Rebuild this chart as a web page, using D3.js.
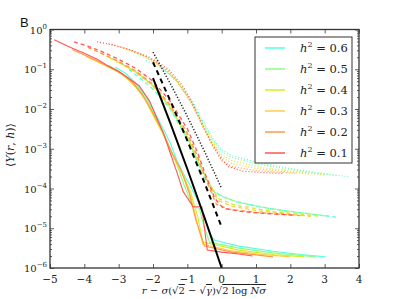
<!DOCTYPE html>
<html><head><meta charset="utf-8">
<script src="https://cdn.jsdelivr.net/npm/d3@7/dist/d3.min.js"></script>
<style>body{margin:0;background:#fff}svg{display:block}</style>
</head><body>
<svg id="c" width="399" height="299"></svg>
<script>
// ---- data ----
const hLabels = ["0.6", "0.5", "0.4", "0.3", "0.2", "0.1"];
const colors = ["#55ffe0", "#88ff88", "#d0f020", "#ffcc44", "#ff9944", "#ff5555"];
const xTicks = [-5, -4, -3, -2, -1, 0, 1, 2, 3, 4];
const yTickExp = [0, -1, -2, -3, -4, -5, -6];

// solid curves, [x, y] per h (order matches hLabels)
const solid = [
  [[-3.1,0.112],[-2.8,0.0794],[-2.5,0.0447],[-2.2,0.02],[-2.0,0.01],[-1.7,0.00316],[-1.5,0.00141],[-1.3,0.0005],[-1.1,0.000224],[-0.9,0.000112],[-0.7,5.01e-5],[-0.5,1.78e-5],[-0.3,6.3e-6],[-0.2,5.0e-6],[0.5,3.55e-6],[1.5,2.63e-6],[2.3,2.19e-6],[3.03,1.9e-6]],
  [[-3.3,0.126],[-3.0,0.0891],[-2.7,0.0562],[-2.4,0.0316],[-2.1,0.0126],[-1.8,0.00398],[-1.5,0.001],[-1.3,0.000398],[-1.1,0.000126],[-0.85,3.55e-5],[-0.65,3.16e-5],[-0.5,1.0e-5],[-0.35,4.47e-6],[0.5,3.16e-6],[1.5,2.4e-6],[2.75,1.9e-6]],
  [[-3.6,0.158],[-3.2,0.105],[-2.9,0.0759],[-2.6,0.0447],[-2.3,0.0224],[-2.0,0.00708],[-1.7,0.00224],[-1.5,0.001],[-1.3,0.000398],[-1.1,0.0002],[-0.9,7.94e-5],[-0.7,2.0e-5],[-0.55,4.47e-6],[0.5,2.82e-6],[1.5,2.19e-6],[2.4,1.9e-6]],
  [[-3.95,0.209],[-3.5,0.138],[-3.1,0.0955],[-2.8,0.0631],[-2.5,0.0355],[-2.2,0.0158],[-1.9,0.00501],[-1.6,0.00158],[-1.4,0.000631],[-1.15,0.000251],[-0.9,6.31e-5],[-0.7,1.26e-5],[-0.55,3.98e-6],[0.3,2.69e-6],[1.2,2.19e-6],[2.0,1.9e-6]],
  [[-4.35,0.316],[-4.0,0.229],[-3.6,0.158],[-3.2,0.105],[-2.9,0.0759],[-2.6,0.0479],[-2.3,0.0224],[-2.0,0.00794],[-1.7,0.00251],[-1.45,0.000794],[-1.2,0.000316],[-0.95,7.94e-5],[-0.75,1.58e-5],[-0.5,3.55e-6],[0.3,2.51e-6],[1.0,2.14e-6],[1.5,1.9e-6]],
  [[-4.88,0.55],[-4.4,0.355],[-4.0,0.251],[-3.6,0.174],[-3.3,0.12],[-3.0,0.0891],[-2.75,0.0631],[-2.4,0.038],[-2.1,0.0158],[-1.9,0.00631],[-1.7,0.00251],[-1.5,0.000794],[-1.3,0.000251],[-1.12,8.32e-5],[-0.83,3.47e-5],[-0.58,3.47e-5],[-0.42,2.82e-6],[0.0,2.51e-6],[0.5,2.24e-6],[0.9,2.0e-6]]
];
const dashed = [
  [[-2.7,0.1],[-2.3,0.0525],[-2.0,0.0316],[-1.5,0.01],[-1.0,0.00178],[-0.7,0.000447],[-0.5,0.000178],[-0.25,8.91e-5],[0.0,6.31e-5],[0.5,4.47e-5],[1.5,3.02e-5],[2.5,2.34e-5],[3.33,1.91e-5]],
  [[-2.95,0.141],[-2.5,0.0891],[-2.0,0.0398],[-1.5,0.0112],[-1.0,0.002],[-0.7,0.000501],[-0.45,0.000178],[-0.2,7.94e-5],[0.3,5.01e-5],[1.2,3.31e-5],[2.2,2.51e-5],[3.1,2.0e-5]],
  [[-3.25,0.191],[-2.8,0.12],[-2.4,0.0759],[-2.0,0.038],[-1.5,0.0112],[-1.0,0.002],[-0.7,0.000501],[-0.4,0.000158],[-0.1,5.62e-5],[0.4,3.8e-5],[1.5,2.63e-5],[2.9,2.0e-5]],
  [[-3.55,0.263],[-3.0,0.151],[-2.5,0.0832],[-2.0,0.038],[-1.5,0.0112],[-1.0,0.00224],[-0.7,0.000562],[-0.4,0.000141],[-0.1,5.01e-5],[0.3,3.55e-5],[1.2,2.63e-5],[2.6,2.0e-5]],
  [[-3.9,0.355],[-3.5,0.251],[-3.0,0.158],[-2.5,0.0891],[-2.0,0.0417],[-1.5,0.0126],[-1.0,0.00251],[-0.7,0.000631],[-0.4,0.000126],[-0.15,3.98e-5],[0.2,3.02e-5],[1.0,2.51e-5],[2.3,2.09e-5]],
  [[-4.3,0.49],[-3.9,0.38],[-3.5,0.282],[-3.0,0.178],[-2.5,0.105],[-2.0,0.0501],[-1.5,0.0158],[-1.0,0.00316],[-0.7,0.000794],[-0.45,0.0002],[-0.2,5.62e-5],[0.05,3.16e-5],[0.6,2.63e-5],[1.3,2.34e-5],[2.08,2.14e-5]]
];
const dotted = [
  [[-2.2,0.166],[-1.7,0.1],[-1.25,0.0447],[-0.85,0.0158],[-0.55,0.00501],[-0.25,0.00178],[0.0,0.000933],[0.3,0.000661],[1.0,0.000468],[2.0,0.000316],[3.0,0.000234],[3.74,0.000195]],
  [[-2.45,0.24],[-1.9,0.141],[-1.35,0.0562],[-0.85,0.0141],[-0.55,0.00447],[-0.25,0.00158],[0.0,0.000832],[0.3,0.000603],[1.0,0.000417],[2.2,0.000282],[3.4,0.000209]],
  [[-2.7,0.316],[-2.1,0.191],[-1.55,0.0891],[-1.15,0.0355],[-0.85,0.0132],[-0.55,0.00398],[-0.25,0.00141],[0.0,0.000708],[0.3,0.000501],[1.2,0.000331],[3.0,0.000219]],
  [[-3.0,0.38],[-2.4,0.251],[-1.9,0.141],[-1.35,0.0562],[-0.85,0.0126],[-0.55,0.00355],[-0.25,0.00126],[0.0,0.000631],[0.3,0.000417],[1.2,0.000302],[2.6,0.000229]],
  [[-3.3,0.437],[-2.8,0.331],[-2.2,0.209],[-1.65,0.105],[-1.25,0.0447],[-0.85,0.0126],[-0.55,0.00355],[-0.25,0.00112],[0.0,0.000501],[0.3,0.000355],[1.0,0.000282],[2.2,0.00024]],
  [[-3.63,0.49],[-3.2,0.417],[-2.7,0.316],[-2.1,0.2],[-1.55,0.1],[-1.15,0.0398],[-0.85,0.0141],[-0.55,0.00398],[-0.3,0.00141],[-0.05,0.000631],[0.2,0.000355],[0.6,0.000275],[1.2,0.000251],[1.8,0.00024]]
];
// theory curves (black)
const theorySolid  = [[-2.0,0.06],[-1.5,0.00457],[-1.0,0.000309],[-0.5,0.0000186],[0.0,0.000001]];
const theoryDashed = [[-2.0,0.15],[-1.5,0.0165],[-1.0,0.0016],[-0.5,0.000139],[0.0,0.0000107]];
const theoryDotted = [[-2.0,0.27],[-1.5,0.0444],[-1.0,0.00653],[-0.5,0.000856],[0.0,0.0001]];

// ---- drawing ----
const svg = d3.select("#c");
const L = 50, R = 359, T = 29.5, B = 268;
const x = d3.scaleLinear().domain([-5, 4]).range([L, R]);
const y = d3.scaleLog().domain([1e-6, 1]).range([B, T]);
const line = d3.line().x(d => x(d[0])).y(d => y(d[1]));

const g = svg.append("g");
g.append("clipPath").attr("id", "clip").append("rect")
  .attr("x", L).attr("y", T).attr("width", R - L).attr("height", B - T);
const plot = g.append("g").attr("clip-path", "url(#clip)");

function drawSet(set, dash, w) {
  set.forEach((pts, i) => {
    plot.append("path").attr("d", line(pts)).attr("fill", "none")
      .attr("stroke", colors[i]).attr("stroke-width", w)
      .attr("stroke-dasharray", dash);
  });
}
drawSet(dotted, "1,2", 1.2);
drawSet(dashed, "4,3", 1.3);
drawSet(solid, null, 1.1);

plot.append("path").attr("d", line(theorySolid)).attr("fill","none").attr("stroke","#000").attr("stroke-width",2);
plot.append("path").attr("d", line(theoryDashed)).attr("fill","none").attr("stroke","#000").attr("stroke-width",2).attr("stroke-dasharray","5,4");
plot.append("path").attr("d", line(theoryDotted)).attr("fill","none").attr("stroke","#222").attr("stroke-width",1.5).attr("stroke-dasharray","1.2,1.8");

// axes (ticks inward on all four sides)
const axB = d3.axisBottom(x).tickValues(xTicks).tickSize(-4).tickFormat("");
const axT = d3.axisTop(x).tickValues(xTicks).tickSize(-4).tickFormat("");
const minorVals = [];
for (let e = -6; e < 0; e++) for (let k = 2; k <= 9; k++) minorVals.push(k * Math.pow(10, e));
const majorVals = yTickExp.map(e => Math.pow(10, e));
const axL = d3.axisLeft(y).tickValues(majorVals).tickSize(-4).tickFormat("");
const axR = d3.axisRight(y).tickValues(majorVals).tickSize(-4).tickFormat("");
const axLm = d3.axisLeft(y).tickValues(minorVals).tickSize(-2).tickFormat("");
const axRm = d3.axisRight(y).tickValues(minorVals).tickSize(-2).tickFormat("");
[[axB,`translate(0,${B})`],[axT,`translate(0,${T})`],[axL,`translate(${L},0)`],[axR,`translate(${R},0)`],
 [axLm,`translate(${L},0)`],[axRm,`translate(${R},0)`]].forEach(([a,t]) => {
  const s = g.append("g").attr("transform", t).call(a);
  s.select(".domain").remove();
  s.selectAll("line").attr("stroke", "#333").attr("stroke-width", 0.8);
});
g.append("rect").attr("x", L).attr("y", T).attr("width", R - L).attr("height", B - T)
  .attr("fill", "none").attr("stroke", "#333").attr("stroke-width", 1.3);

const serif = "'DejaVu Serif', 'Liberation Serif', serif";
// x tick labels
xTicks.forEach(v => {
  g.append("text").attr("x", x(v)).attr("y", B + 15).attr("text-anchor", "middle")
    .attr("font-family", serif).attr("font-size", 10.5).attr("fill", "#222")
    .text(v < 0 ? "\u2212" + Math.abs(v) : String(v));
});
// y tick labels
yTickExp.forEach(e => {
  const t = g.append("text").attr("x", L - 3).attr("y", y(Math.pow(10, e)) + 4).attr("text-anchor", "end")
    .attr("font-family", serif).attr("font-size", 10).attr("fill", "#222");
  t.append("tspan").text("10");
  t.append("tspan").attr("dy", -5).attr("font-size", 7).text(e < 0 ? "\u2212" + Math.abs(e) : String(e));
});

// panel label
g.append("text").attr("x", 20).attr("y", 27).attr("font-family", "'Liberation Sans', Arial, sans-serif")
  .attr("font-size", 13).attr("fill", "#111").text("B");

// y label
const yl = g.append("text").attr("transform", `translate(14,145) rotate(-90)`)
  .attr("text-anchor", "middle").attr("font-family", serif).attr("font-size", 11).attr("fill", "#222");
yl.append("tspan").text("\u27e8");
yl.append("tspan").attr("font-style", "italic").text("Y");
yl.append("tspan").text("(");
yl.append("tspan").attr("font-style", "italic").text("r");
yl.append("tspan").text(", ");
yl.append("tspan").attr("font-style", "italic").text("h");
yl.append("tspan").text(")\u27e9");

// x label
const xl = g.append("text").attr("x", 204).attr("y", 294).attr("text-anchor", "middle")
  .attr("font-family", serif).attr("font-size", 10).attr("fill", "#222");
xl.append("tspan").attr("font-style", "italic").text("r");
xl.append("tspan").text(" \u2212 ");
xl.append("tspan").attr("font-style", "italic").text("σ");
xl.append("tspan").text("(√");
xl.append("tspan").attr("text-decoration", "overline").text("2");
xl.append("tspan").text(" \u2212 √");
xl.append("tspan").attr("text-decoration", "overline").attr("font-style", "italic").text("γ");
xl.append("tspan").text(")√");
xl.append("tspan").attr("text-decoration", "overline").text("2 log ");
xl.append("tspan").attr("text-decoration", "overline").attr("font-style", "italic").text("Nσ");

// legend
const lg = g.append("g");
lg.append("rect").attr("x", 255).attr("y", 37).attr("width", 97).attr("height", 126)
  .attr("fill", "#fff").attr("stroke", "#333").attr("stroke-width", 1);
hLabels.forEach((h, i) => {
  const yy = 48 + i * 21;
  lg.append("line").attr("x1", 265).attr("x2", 285).attr("y1", yy).attr("y2", yy)
    .attr("stroke", colors[i]).attr("stroke-width", 1.5);
  const t = lg.append("text").attr("x", 300).attr("y", yy + 4).attr("font-family", serif)
    .attr("font-size", 11.5).attr("fill", "#222");
  t.append("tspan").attr("font-style", "italic").text("h");
  t.append("tspan").attr("dy", -5).attr("font-size", 8).text("2");
  t.append("tspan").attr("dy", 5).text(" = " + h);
});
</script>
</body></html>
